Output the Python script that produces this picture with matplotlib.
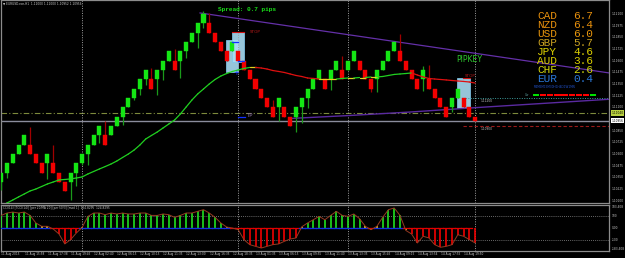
import matplotlib
matplotlib.use("Agg")
import matplotlib.pyplot as plt
import matplotlib.transforms as mtrans
from matplotlib.patches import Rectangle

W, H = 625, 258

# ---- price data (renko style bars, EURUSD H1) ----
opens = [1.1030, 1.1040, 1.1050, 1.1060, 1.1070, 1.1070, 1.1060, 1.1050, 1.1050, 1.1050,
         1.1040, 1.1030, 1.1030, 1.1040, 1.1050, 1.1060, 1.1070, 1.1080, 1.1080, 1.1080,
         1.1090, 1.1100, 1.1110, 1.1120, 1.1130, 1.1140, 1.1140, 1.1140, 1.1150, 1.1160,
         1.1160, 1.1160, 1.1170, 1.1180, 1.1190, 1.1200, 1.1200, 1.1190, 1.1180, 1.1170,
         1.1170, 1.1170, 1.1160, 1.1150, 1.1140, 1.1130, 1.1120, 1.1110, 1.1110, 1.1110,
         1.1100, 1.1100, 1.1110, 1.1120, 1.1130, 1.1140, 1.1140, 1.1140, 1.1150, 1.1150,
         1.1150, 1.1160, 1.1160, 1.1150, 1.1140, 1.1140, 1.1150, 1.1160, 1.1170, 1.1170,
         1.1160, 1.1150, 1.1140, 1.1140, 1.1140, 1.1130, 1.1120, 1.1110, 1.1110, 1.1120,
         1.1120, 1.1110, 1.1100]
closes = [1.1040, 1.1050, 1.1060, 1.1070, 1.1080, 1.1060, 1.1050, 1.1040, 1.1060, 1.1040,
          1.1030, 1.1020, 1.1040, 1.1050, 1.1060, 1.1070, 1.1080, 1.1090, 1.1070, 1.1090,
          1.1100, 1.1110, 1.1120, 1.1130, 1.1140, 1.1150, 1.1130, 1.1150, 1.1160, 1.1170,
          1.1150, 1.1170, 1.1180, 1.1190, 1.1200, 1.1210, 1.1190, 1.1180, 1.1170, 1.1160,
          1.1180, 1.1160, 1.1150, 1.1140, 1.1130, 1.1120, 1.1110, 1.1100, 1.1120, 1.1100,
          1.1090, 1.1110, 1.1120, 1.1130, 1.1140, 1.1150, 1.1130, 1.1150, 1.1160, 1.1140,
          1.1160, 1.1170, 1.1150, 1.1140, 1.1130, 1.1150, 1.1160, 1.1170, 1.1180, 1.1160,
          1.1150, 1.1140, 1.1130, 1.1150, 1.1130, 1.1120, 1.1110, 1.1100, 1.1120, 1.1130,
          1.1110, 1.1100, 1.10956]
wick_high = {5: 1.1089, 9: 1.1070, 18: 1.1095, 26: 1.1152, 30: 1.1172, 35: 1.12135,
             36: 1.12114, 47: 1.1118, 59: 1.1165, 69: 1.1189, 73: 1.1154, 74: 1.1155}
wick_low = {0: 1.1021, 1: 1.1034, 8: 1.1033, 12: 1.1011, 13: 1.1026, 14: 1.1048,
            15: 1.1048, 17: 1.1072, 21: 1.1091, 23: 1.1118, 24: 1.1123, 25: 1.1134,
            27: 1.1123, 28: 1.1139, 31: 1.1141, 32: 1.1163, 34: 1.1174, 35: 1.1195,
            48: 1.1095, 51: 1.1083, 52: 1.1093, 53: 1.1109, 57: 1.1129, 64: 1.1126,
            65: 1.1126, 73: 1.1127, 78: 1.1105, 82: 1.10952}

ma = [1.10042, 1.10074, 1.10106, 1.10139, 1.10171, 1.10203, 1.10224, 1.10251, 1.10278, 1.10299,
      1.10321, 1.10326, 1.10332, 1.10342, 1.10353, 1.10385, 1.10412, 1.10439, 1.10465, 1.10492,
      1.10524, 1.10562, 1.10599, 1.10642, 1.10696, 1.10760, 1.10798, 1.10835, 1.10878, 1.10921,
      1.10964, 1.11028, 1.11103, 1.11178, 1.11243, 1.11296, 1.11350, 1.11398, 1.11435, 1.11462,
      1.11484, 1.11500, 1.11516, 1.11527, 1.11527, 1.11521, 1.11510, 1.11494, 1.11484, 1.11473,
      1.11457, 1.11441, 1.11430, 1.11414, 1.11409, 1.11403, 1.11403, 1.11403, 1.11403, 1.11409,
      1.11414, 1.11414, 1.11419, 1.11419, 1.11425, 1.11425, 1.11430, 1.11441, 1.11452, 1.11457,
      1.11462, 1.11468, 1.11446, 1.11425, 1.11409, 1.11403, 1.11398, 1.11393, 1.11387, 1.11382,
      1.11377, 1.11371, 1.11360]

cci = [105, 125, 133, 125, 133, 105, 42, 14, 14, -8,
       -50, -133, -97, -42, 5, 97, 125, 125, 111, 125,
       117, 125, 117, 117, 125, 125, 105, 105, 117, 111,
       89, 105, 125, 125, 139, 153, 125, 89, 42, 8,
       0, -14, -97, -139, -153, -167, -153, -139, -133, -111,
       -92, -83, 10, 42, 69, 97, 69, 105, 139, 105,
       97, 117, 78, 14, -14, 14, 89, 153, 167, 105,
       -20, -50, -125, -69, -83, -139, -161, -153, -139, -56,
       -69, -97, -125]

time_labels = ["11 Aug 2015", "11 Aug 15:58", "11 Aug 17:38", "11 Aug 19:45", "12 Aug 02:40",
               "12 Aug 06:15", "12 Aug 10:15", "12 Aug 11:35", "12 Aug 13:00", "12 Aug 16:35",
               "12 Aug 18:35", "13 Aug 01:35", "13 Aug 06:15", "13 Aug 09:55", "13 Aug 11:40",
               "13 Aug 13:35", "13 Aug 15:45", "14 Aug 09:15", "14 Aug 13:54", "14 Aug 17:55",
               "14 Aug 19:50"]
separators = [14, 41, 60, 82]

price_ticks = [1.12100, 1.11975, 1.11850, 1.11725, 1.11600, 1.11475, 1.11350, 1.11225,
               1.11100, 1.10850, 1.10725, 1.10600, 1.10475, 1.10350, 1.10225, 1.10100]
bid, ask_line = 1.10956, 1.11040

trend_x, trend_y = [34.4, 105.2], [1.12111, 1.11468]
support_x = [50.0, 60.3, 70.7, 82.3, 105.2]
support_y = [1.10980, 1.11012, 1.11049, 1.11097, 1.11186]
stop_boxes = [(38.9, 41.0, 1.11478, 1.11821), (39.9, 42.0, 1.11586, 1.11907),
              (78.9, 81.1, 1.11093, 1.11414)]

ccys = ["CAD", "NZD", "USD", "GBP", "JPY", "AUD", "CHF", "EUR"]
strength = [6.7, 6.4, 6.0, 5.7, 4.6, 3.6, 2.6, 0.4]
ccy_colors = ["#e8900c", "#e8900c", "#e8960c", "#c8a020", "#dcd000", "#dcd000", "#d2d60a", "#2a78d8"]
tf_colors = ["#00e000", "#ff0000", "#ff0000", "#ff0000", "#ff0000", "#ff0000", "#ff0000", "#ff0000", "#00e000"]

GREEN, RED = "#14e614", "#f20000"
TINY = 2.1  # MT4 scale font, ~1.7 px per glyph

fig = plt.figure(figsize=(W / 100, H / 100), dpi=100, facecolor="black")
ax = fig.add_axes([1 / W, 1 - 203 / H, 608 / W, 203 / H], facecolor="black")
axc = fig.add_axes([1 / W, 1 - 251 / H, 608 / W, 46 / H], facecolor="black")
for a in (ax, axc):
    a.set_xlim(-0.035, 105.16)
    a.set_xticks([])
    a.set_yticks([])
    for s in a.spines.values():
        s.set_color("#8c8c8c")
        s.set_linewidth(0.9)
ax.set_ylim(1.10074, 1.12250)
axc.set_ylim(-192, 192)

n = len(opens)
xs = list(range(n))

# stop boxes behind candles
for x0, x1, y0, y1 in stop_boxes:
    ax.add_patch(Rectangle((x0, y0), x1 - x0, y1 - y0, facecolor="#a8dcf2", edgecolor="#7fc6ea",
                           lw=0.6, alpha=0.9, zorder=1))

# horizontal lines
ax.axhline(ask_line, color="#7d8a3c", lw=0.8, ls=(0, (5, 2, 1, 2)), zorder=2)
ax.axhline(bid, color="#8a8c9c", lw=1.0, zorder=2)
ax.plot([79.9, 105.2], [1.11200, 1.11200], color="#3c9c9c", lw=0.7, ls=(0, (1, 1.5)), zorder=2)
ax.plot([79.9, 105.2], [1.10900, 1.10900], color="#9a1a1a", lw=0.8, ls=(0, (3, 2)), zorder=2)

for s in separators:
    for a in (ax, axc):
        a.axvline(s, color="#a0a0a0", lw=0.7, ls=(0, (1, 1.5)), zorder=2)

# trend lines
ax.plot(trend_x, trend_y, color="#6430a8", lw=0.9, zorder=3)
ax.plot(support_x, support_y, color="#5a2aa0", lw=1.0, zorder=3)

# candles
for i in xs:
    o, c = opens[i], closes[i]
    col = GREEN if c >= o else RED
    wcol = "#1a9a1a" if c >= o else "#a00000"
    hi = max(o, c, wick_high.get(i, 0))
    lo = min(o, c, wick_low.get(i, 9))
    ax.vlines(i, lo, hi, color=wcol, lw=0.9, zorder=4)
    ax.bar(i, max(abs(c - o), 0.00003), bottom=min(o, c), width=0.7, color=col,
           edgecolor=col, lw=0.3, zorder=5)

# colour-coded moving average
for i in range(n - 1):
    d = ma[i + 1] - ma[i]
    col = "#20d020" if d > 0.00003 else ("#e01010" if d < -0.00003 else "#e0d020")
    ax.plot([i, i + 1], [ma[i], ma[i + 1]], color=col, lw=0.9, zorder=6, solid_capstyle="round")

# stop / tp markers
ax.plot([39.9, 42.0], [1.11907, 1.11907], color="#d01010", lw=0.8, zorder=6)
ax.plot([79.9, 81.1], [1.11414, 1.11414], color="#d01010", lw=0.8, zorder=6)
ax.plot([39.9, 41.0], [1.11800, 1.11800], color="#1030ff", lw=0.9, zorder=6)
ax.plot([41.0, 42.0], [1.11600, 1.11600], color="#1030ff", lw=0.9, zorder=6)
ax.plot([40.9, 42.2], [1.11000, 1.11000], color="#1030ff", lw=0.9, zorder=6)
ax.plot([79.9, 81.5], [1.10000, 1.10000], color="#1030ff", lw=0.9, zorder=6)
ax.text(40.6, 1.11470, "+", color="#1030ff", fontsize=5, ha="center", va="center", zorder=7)
ax.text(43.0, 1.11910, "STOP", color="#b01818", fontsize=3.0, va="center", zorder=7)
ax.text(80.2, 1.11430, "STOP", color="#b01818", fontsize=3.0, va="center", zorder=7)
ax.text(42.4, 1.11010, "TP", color="#8a70a0", fontsize=4, va="center", zorder=7)
ax.text(81.6, 1.10010, "TP", color="#8a70a0", fontsize=2.6, va="center", zorder=7)
ax.text(83.0, 1.11165, "1.11200", color="#c8c8c8", fontsize=TINY, va="center", zorder=7)
ax.text(83.0, 1.10870, "1.10900", color="#c8c8c8", fontsize=TINY, va="center", zorder=7)
ax.text(90.6, 1.11230, "Cw", color="#5a9a9a", fontsize=TINY, va="center", zorder=7)

# price scale
tr = mtrans.blended_transform_factory(ax.transAxes, ax.transData)
for p in price_ticks:
    ax.text(1.004, p, f"{p:.5f}", transform=tr, color="#c8c8c8", fontsize=TINY,
            va="center", clip_on=False)
ax.text(1.004, ask_line, "1.11040", transform=tr, color="black", fontsize=TINY, va="center",
        clip_on=False, bbox=dict(boxstyle="square,pad=0.25", fc="#b8d040", ec="none"))
ax.text(1.004, bid, "1.10956", transform=tr, color="black", fontsize=TINY, va="center",
        clip_on=False, bbox=dict(boxstyle="square,pad=0.25", fc="white", ec="none"))

# CCI panel
for lvl in (100, -100):
    axc.axhline(lvl, color="#8c8c8c", lw=0.6, ls=(0, (1, 1.5)))
for i in xs:
    v = cci[i]
    col = "#20e020" if v > 30 else ("#f00000" if v < -30 else "#e8d020")
    axc.vlines(i, 0, v, color=col, lw=1.2, zorder=3)
    if i < n - 1:
        zc = "#1030e0" if v > 0 else "#e00000"
        axc.plot([i - 0.5, i + 0.5], [0, 0], color=zc, lw=0.9, zorder=4)
axc.plot(xs, cci, color="#963a22", lw=0.7, zorder=5)
trc = mtrans.blended_transform_factory(axc.transAxes, axc.transData)
for v, lab in [(175, "183.408"), (100, "100"), (0, "0.00"), (-100, "-100"), (-175, "-183.408")]:
    axc.text(1.004, v, lab, transform=trc, color="#c8c8c8", fontsize=TINY, va="center", clip_on=False)
fig.text(3 / W, 1 - 208 / H, "CCI(14) [TCCI(14)] [per 20/MA 20] [per 50/3] [mod 1]  124.8295  124.8295",
         color="#c8c8c8", fontsize=TINY, va="center")

# time axis
for k, lab in enumerate(time_labels):
    xpx = 1.5 + 5.78 * 4 * k
    fig.text(xpx / W, 1 - 254.5 / H, lab, color="#c8c8c8", fontsize=TINY, va="center")

# header / overlays
fig.text(3 / W, 1 - 4 / H, "\u25bc EURUSD.ecn,H1  1.11000 1.11000 1.10952 1.10956",
         color="#d0d0d0", fontsize=TINY, va="center")
fig.text(218 / W, 1 - 9 / H, "Spread: 0.7 pips", color="#18e018", fontsize=4.4,
         family="Liberation Mono", weight="bold", va="center")
fig.text(456 / W, 1 - 60 / H, "PIPKEY", color="#2ec82e", fontsize=5.6, va="center")

for k, (c, v, col) in enumerate(zip(ccys, strength, ccy_colors)):
    yy = 1 - (15.8 + 9.1 * k) / H
    fig.text(537 / W, yy, c, color=col, fontsize=8, family="Liberation Mono", va="center")
    fig.text(573 / W, yy, f"{v:.1f}", color=col, fontsize=8, family="Liberation Mono", va="center")
fig.text(534 / W, 1 - 87.5 / H, "M1M5M15M30H1H4D1W1MN", color="#2050c8", fontsize=TINY, va="center")
for k, col in enumerate(tf_colors):
    x0 = 533 + 7.1 * k
    fig.patches.append(Rectangle((x0 / W, 1 - 96 / H), 6.2 / W, 1.6 / H, facecolor=col,
                                 transform=fig.transFigure, figure=fig))

fig.savefig("out.png", dpi=100, facecolor="black")
